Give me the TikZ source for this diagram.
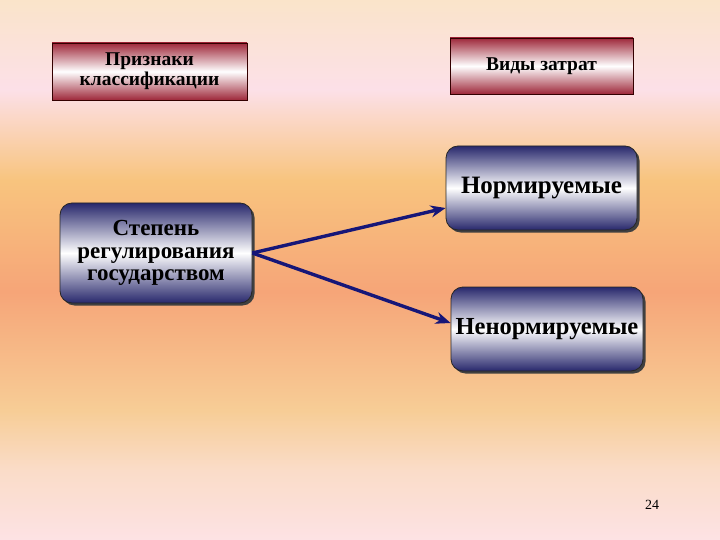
\documentclass[tikz,border=0pt]{standalone}
\usepackage{fontspec}
\setmainfont{Liberation Serif}
\usetikzlibrary{arrows.meta,shadows}

\definecolor{bgpink}{RGB}{253,226,228}
\definecolor{bgrose}{RGB}{252,224,232}
\definecolor{bgcream}{RGB}{250,228,202}
\definecolor{bgorange}{RGB}{248,196,126}
\definecolor{bgsalmon}{RGB}{246,165,120}
\definecolor{bgyellow}{RGB}{247,205,150}
\definecolor{bgpeach}{RGB}{250,220,200}
\definecolor{boxred}{RGB}{158,40,58}
\definecolor{boxblue}{RGB}{40,40,108}
\definecolor{arrowblue}{RGB}{22,22,120}

% Hintergrund (von unten nach oben, sichtbar 25bp..75bp)
\pgfdeclareverticalshading{slidebg}{100bp}{%
  color(0bp)=(bgpink); color(25bp)=(bgpink); color(31.5bp)=(bgpeach);
  color(37bp)=(bgyellow); color(48bp)=(bgsalmon); color(58.3bp)=(bgorange);
  color(66.7bp)=(bgrose); color(75bp)=(bgcream); color(100bp)=(bgcream)}

\begin{document}
\begin{tikzpicture}[
    x=1pt, y=-1pt,
    headbox/.style={draw=black!80!red, line width=0.8pt, top color=boxred, bottom color=boxred,
      middle color=white, align=center, font=\bfseries\fontsize{19.5}{20}\selectfont,
      inner sep=2pt},
    kindbox/.style={draw=black!85, line width=0.8pt, rounded corners=12pt, top color=boxblue,
      bottom color=boxblue, middle color=white, align=center,
      drop shadow={shadow xshift=2.5pt, shadow yshift=-2.5pt, fill=black!75, opacity=1}},
    link/.style={draw=arrowblue, line width=3.4pt, -{Stealth[length=15pt,width=12pt]}}]
    % Hintergrund
    \shade[shading=slidebg] (0,0) rectangle (720,540);
    \useasboundingbox (0,0) rectangle (720,540);

    % Kopfzeile
    \node[headbox, minimum width=195pt, minimum height=57pt] (sign) at (149.5,71.5)
        {Признаки\\классификации};
    \node[headbox, minimum width=183pt, minimum height=56pt] (kind) at (541.5,66)
        {Виды затрат};

    % Kästen
    \node[kindbox, minimum width=192pt, minimum height=100pt,
          font=\bfseries\fontsize{23}{22.5}\selectfont] (state) at (156,253)
        {Степень\\регулирования\\государством};
    \node[kindbox, minimum width=191pt, minimum height=84pt,
          font=\bfseries\fontsize{25}{26}\selectfont] (norm) at (541.5,188)
        {Нормируемые};
    \node[kindbox, minimum width=192pt, minimum height=84pt,
          font=\bfseries\fontsize{24.5}{26}\selectfont] (nonnorm) at (547,329)
        {Ненормируемые};

    % Pfeile
    \draw[link] (state.east) -- ([yshift=-20pt]norm.west);
    \draw[link] (state.east) -- ([yshift=6pt]nonnorm.west);

    % Seitenzahl
    \node[font=\fontsize{14}{16}\selectfont] (page) at (652,505) {24};
\end{tikzpicture}
\end{document}
